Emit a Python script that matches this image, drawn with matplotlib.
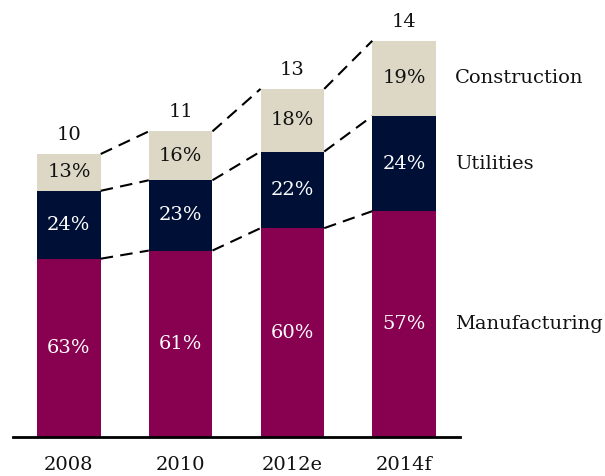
import matplotlib.pyplot as plt

# Data
years = ['2008', '2010', '2012e', '2014f']
totals = [10.0, 10.8, 12.3, 14.0]          # bar heights
total_labels = ['10', '11', '13', '14']
manufacturing = [63, 61, 60, 57]
utilities = [24, 23, 22, 24]
construction = [13, 16, 18, 19]
segments = ['Manufacturing', 'Utilities', 'Construction']
colors = ['#880050', '#000F36', '#DDD8C6']
text_colors = ['white', 'white', '#111111']

plt.rcParams['font.family'] = ['DejaVu Serif']
FS = 14

fig = plt.figure(figsize=(6.05, 4.76), dpi=100)
ax = fig.add_axes([13 / 605, 39 / 476, 447 / 605, 424.5 / 476])

width = 0.57
shares = [manufacturing, utilities, construction]
bottoms = [0.0] * len(years)
bounds = []
for k, share in enumerate(shares):
    heights = [t * s / 100 for t, s in zip(totals, share)]
    ax.bar(range(len(years)), heights, width, bottom=bottoms, color=colors[k], edgecolor='none')
    for i, h in enumerate(heights):
        ax.text(i, bottoms[i] + h / 2, f'{share[i]}%', ha='center', va='center',
                color=text_colors[k], fontsize=FS)
    bottoms = [b + h for b, h in zip(bottoms, heights)]
    bounds.append(list(bottoms))
    # series name next to the last bar
    ax.text(3.456, bottoms[-1] - heights[-1] / 2, segments[k], ha='left', va='center',
            fontsize=FS, color='#111111')

# dashed connectors between segment tops
for b in bounds:
    for i in range(len(years) - 1):
        ax.plot([i + width / 2, i + 1 - width / 2], [b[i], b[i + 1]], color='black',
                lw=1.5, linestyle=(0, (6, 3.5)))

for i, t in enumerate(totals):
    ax.text(i, t + 0.35, total_labels[i], ha='center', va='bottom', fontsize=FS, color='#111111')

ax.set_xlim(-0.5, 3.5)
ax.set_ylim(0, 15)
ax.set_xticks(range(len(years)))
ax.set_xticklabels(years, fontsize=FS, color='#111111')
ax.tick_params(axis='x', length=0, pad=14)
ax.set_yticks([])
for side in ['top', 'right', 'left']:
    ax.spines[side].set_visible(False)
ax.spines['bottom'].set_linewidth(2)

fig.savefig('out.png', dpi=100)
